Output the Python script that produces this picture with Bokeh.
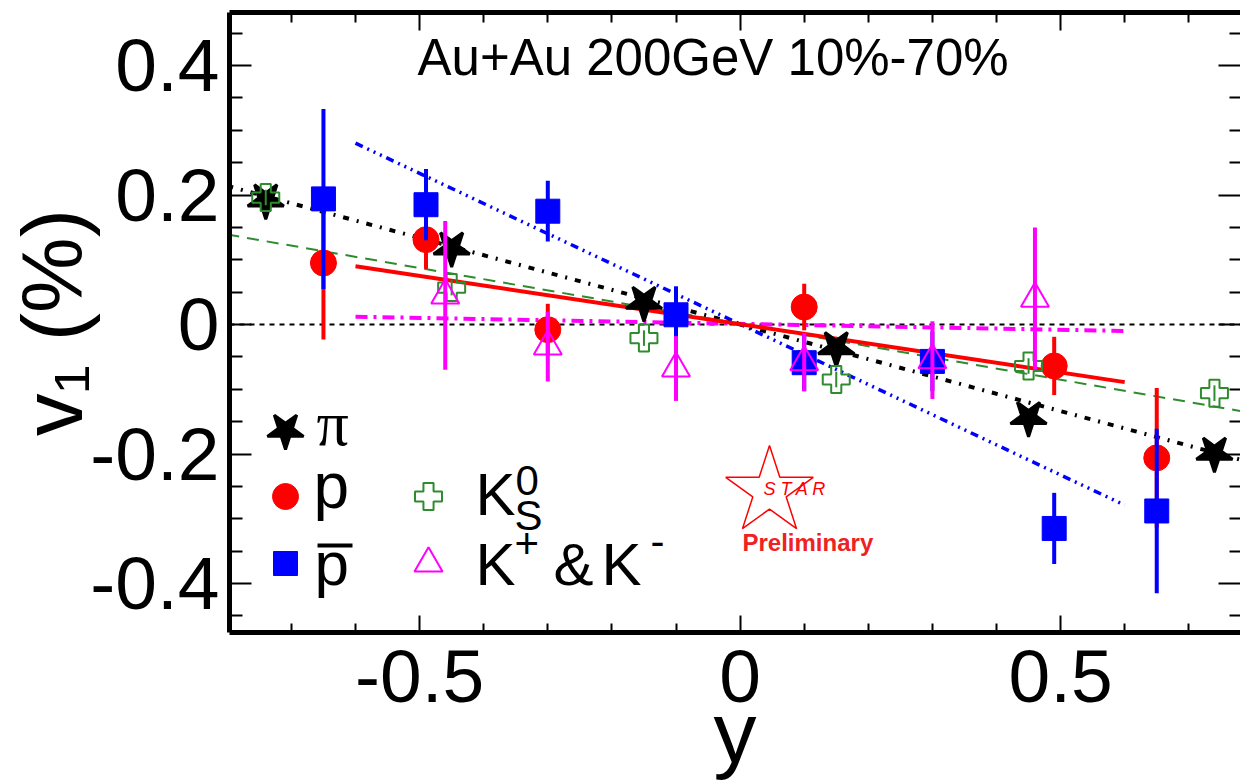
import numpy as np
from bokeh.plotting import figure
from bokeh.models import (Range1d, LinearAxis, FixedTicker, Label, ColumnDataSource,
                          CustomLabelingPolicy)
from bokeh.embed import file_html
from bokeh.resources import INLINE

# ---------------- data ----------------
pion_x = [-0.74, -0.45, -0.15, 0.15, 0.45, 0.74]
pion_v1 = [0.192, 0.118, 0.034, -0.036, -0.144, -0.199]
pion_err = [0.010, 0.010, 0.010, 0.010, 0.010, 0.010]

proton_x = [-0.65, -0.49, -0.30, 0.10, 0.49, 0.65]
proton_v1 = [0.095, 0.131, -0.008, 0.027, -0.064, -0.206]
proton_err = [0.118, 0.045, 0.040, 0.036, 0.045, 0.108]

pbar_x = [-0.65, -0.49, -0.30, -0.10, 0.10, 0.30, 0.49, 0.65]
pbar_v1 = [0.194, 0.185, 0.175, 0.015, -0.059, -0.057, -0.315, -0.288]
pbar_err = [0.139, 0.055, 0.047, 0.044, 0.044, 0.046, 0.055, 0.127]

ks_x = [-0.74, -0.45, -0.15, 0.15, 0.45, 0.74]
ks_v1 = [0.196, 0.057, -0.021, -0.085, -0.064, -0.106]
ks_err = [0.012, 0.012, 0.012, 0.012, 0.012, 0.012]

kpm_x = [-0.46, -0.30, -0.10, 0.10, 0.30, 0.46]
kpm_v1 = [0.045, -0.034, -0.068, -0.058, -0.055, 0.040]
kpm_err = [0.115, 0.054, 0.050, 0.045, 0.060, 0.110]

# linear fits (end points)
pion_fit_x = [-0.8, 0.8]
pion_fit_v1 = [0.214, -0.214]
proton_fit_x = [-0.6, 0.6]
proton_fit_v1 = [0.090, -0.089]
pbar_fit_x = [-0.6, 0.6]
pbar_fit_v1 = [0.280, -0.279]
ks_fit_x = [-0.8, 0.8]
ks_fit_v1 = [0.139, -0.137]
kpm_fit_x = [-0.6, 0.6]
kpm_fit_v1 = [0.012, -0.010]

x_ticks = [-0.5, 0.0, 0.5]
x_tick_labels = ["-0.5", "0", "0.5"]
x_minor = [-0.7, -0.6, -0.4, -0.3, -0.2, -0.1, 0.1, 0.2, 0.3, 0.4, 0.6, 0.7]
y_ticks = [-0.4, -0.2, 0.0, 0.2, 0.4]
y_tick_labels = ["-0.4", "-0.2", "0", "0.2", "0.4"]
y_minor = [-0.45, -0.35, -0.3, -0.25, -0.15, -0.1, -0.05, 0.05, 0.1, 0.15, 0.25, 0.3, 0.35, 0.45]

title_text = "Au+Au 200GeV 10%-70%"
x_title = "y"
y_title = "v\u2081 (%)"

# ---------------- layout ----------------
FL, FR, FT, FB = 229, 1240, 12, 632
X0 = 739.6   # pixel of x = 0
XPU = 641.0  # pixels per unit x
Y0 = 324.0   # pixel of v1 = 0
YPU = 647.5  # pixels per unit v1
X_RANGE = ((FL - X0) / XPU, (FR - X0) / XPU)
Y_RANGE = ((Y0 - FB) / YPU, (Y0 - FT) / YPU)


def sx(px):
    return (px - X0) / XPU


def sy(py):
    return (Y0 - py) / YPU


p = figure(frame_width=FR - FL, frame_height=FB - FT,
           x_range=Range1d(*X_RANGE), y_range=Range1d(*Y_RANGE),
           output_backend="svg", toolbar_location=None,
           x_axis_location=None, y_axis_location=None,
           min_border_left=FL, min_border_right=0,
           min_border_top=FT, min_border_bottom=146,
           outline_line_color=None, background_fill_color="white",
           border_fill_color="white")
p.xgrid.grid_line_color = None
p.ygrid.grid_line_color = None

FONT = "Liberation Sans"
NO_LABELS = "for (const i of indices) { indices.unset(i) }\nreturn indices"


def make_axis(ticks, minor, labels, major_in, minor_in, show_labels=True, line=True,
              title=None, title_size="85px", title_standoff=0, label_standoff=10):
    ax = LinearAxis(ticker=FixedTicker(ticks=ticks, minor_ticks=minor),
                    major_label_overrides={float(t): s for t, s in zip(ticks, labels)},
                    axis_line_width=5, axis_line_color="black" if line else None,
                    major_tick_in=major_in, major_tick_out=0,
                    minor_tick_in=minor_in, minor_tick_out=0,
                    major_tick_line_width=2, minor_tick_line_width=2,
                    major_label_text_font=FONT,
                    major_label_text_font_size="75px" if show_labels else "0px",
                    major_label_text_color="black",
                    major_label_standoff=label_standoff if show_labels else 0)
    if not show_labels:
        ax.major_label_policy = CustomLabelingPolicy(code=NO_LABELS)
    if title is not None:
        ax.axis_label = title
        ax.axis_label_text_font = FONT
        ax.axis_label_text_font_size = title_size
        ax.axis_label_text_font_style = "normal"
        ax.axis_label_text_color = "black"
        ax.axis_label_standoff = title_standoff
    return ax


p.add_layout(make_axis(y_ticks, y_minor, y_tick_labels, 22, 13,
                       title=y_title, title_size="85px", title_standoff=-13), "left")
p.add_layout(make_axis(x_ticks, x_minor, x_tick_labels, 17, 9,
                       title=x_title, title_size="86px", title_standoff=-21,
                       label_standoff=18), "below")
p.add_layout(make_axis(x_ticks, x_minor, x_tick_labels, 18, 10, show_labels=False), "above")
p.add_layout(make_axis(y_ticks, y_minor, y_tick_labels, 22, 11, show_labels=False, line=False), "right")

# zero line
p.line(x=[X_RANGE[0], X_RANGE[1]], y=[0, 0], line_color="black", line_width=2, line_dash="5 5")

# fits
GREEN = "#2e8b2e"
p.line(ks_fit_x, ks_fit_v1, line_color=GREEN, line_width=2, line_dash="12 8")
p.line(kpm_fit_x, kpm_fit_v1, line_color="magenta", line_width=4, line_dash="12 6 3 6")
p.line(pbar_fit_x, pbar_fit_v1, line_color="blue", line_width=3.5, line_dash="8 5 2 5 2 5 2 5")
p.line(pion_fit_x, pion_fit_v1, line_color="black", line_width=4, line_dash="6 8 2 8")
p.line(proton_fit_x, proton_fit_v1, line_color="red", line_width=4)


def src(x, v, e):
    x = np.asarray(x, float)
    v = np.asarray(v, float)
    e = np.asarray(e, float)
    return ColumnDataSource(dict(x=x, v=v, lo=v - e, hi=v + e))


s_pi = src(pion_x, pion_v1, pion_err)
s_p = src(proton_x, proton_v1, proton_err)
s_pb = src(pbar_x, pbar_v1, pbar_err)
s_ks = src(ks_x, ks_v1, ks_err)
s_k = src(kpm_x, kpm_v1, kpm_err)

# pions
p.segment("x", "lo", "x", "hi", source=s_pi, line_color="black", line_width=4)
p.scatter("x", "v", source=s_pi, marker="star", size=38, angle=np.pi,
          fill_color="black", line_color="black", line_width=3)
# protons
p.segment("x", "lo", "x", "hi", source=s_p, line_color="red", line_width=4)
p.scatter("x", "v", source=s_p, marker="circle", size=26, fill_color="red", line_color="red")
# anti-protons
p.segment("x", "lo", "x", "hi", source=s_pb, line_color="blue", line_width=4)
p.scatter("x", "v", source=s_pb, marker="square", size=24, fill_color="blue", line_color="blue")
# K0s
p.segment("x", "lo", "x", "hi", source=s_ks, line_color=GREEN, line_width=2)
p.scatter("x", "v", source=s_ks, marker="plus", size=27, fill_color=None,
          line_color=GREEN, line_width=2)
# K+ & K-
p.segment("x", "lo", "x", "hi", source=s_k, line_color="magenta", line_width=4)
p.scatter("x", "v", source=s_k, marker="triangle", size=28, fill_color=None,
          line_color="magenta", line_width=2)

# ---------------- legend (manual) ----------------
leg_x = [sx(285), sx(285), sx(285), sx(428), sx(428)]
leg_y = [sy(430), sy(496), sy(563), sy(496), sy(563)]
p.scatter([leg_x[0]], [leg_y[0]], marker="star", size=38, angle=np.pi, fill_color="black",
          line_color="black", line_width=3)
p.scatter([leg_x[1]], [leg_y[1]], marker="circle", size=26, fill_color="red", line_color="red")
p.scatter([leg_x[2]], [leg_y[2]], marker="square", size=24, fill_color="blue", line_color="blue")
p.scatter([leg_x[3]], [leg_y[3]], marker="plus", size=27, fill_color=None, line_color=GREEN, line_width=2)
p.scatter([leg_x[4]], [leg_y[4]], marker="triangle", size=28, fill_color=None, line_color="magenta", line_width=2)

MID = 0.3465  # em offset between the anchor used by the renderer and the baseline


def lab(px, py, text, size, font=FONT, style="normal", color="black", align="left"):
    p.add_layout(Label(x=sx(px), y=sy(py - MID * size), text=text, text_font=font,
                       text_font_size=f"{size}px", text_font_style=style,
                       text_color=color, text_align=align,
                       text_baseline="alphabetic"))


lab(316, 445, "π", 64, font="Liberation Serif")
lab(313, 508, "p", 64)
lab(314, 584, "p", 62)
p.segment(x0=[sx(317)], y0=[sy(545)], x1=[sx(352)], y1=[sy(545)], line_color="black", line_width=4)
lab(475, 515, "K", 60)
lab(514, 530, "S", 42)
lab(515, 495, "0", 42)
lab(475, 585, "K", 60)
lab(514, 558, "+", 42)
lab(553, 585, "&", 60)
lab(601, 585, "K", 60)
lab(650, 556, "-", 42)

# title
lab(417, 75, title_text, 51)

# STAR preliminary logo
p.scatter([sx(769)], [sy(491)], marker="star", size=92, fill_color=None, line_color="red", line_width=1.5)
lab(763, 495, "S T A R", 18, style="italic", color="red")
lab(742, 550, "Preliminary", 24, style="bold", color="#ee2222")

open("out.html", "w").write(file_html(p, INLINE))
